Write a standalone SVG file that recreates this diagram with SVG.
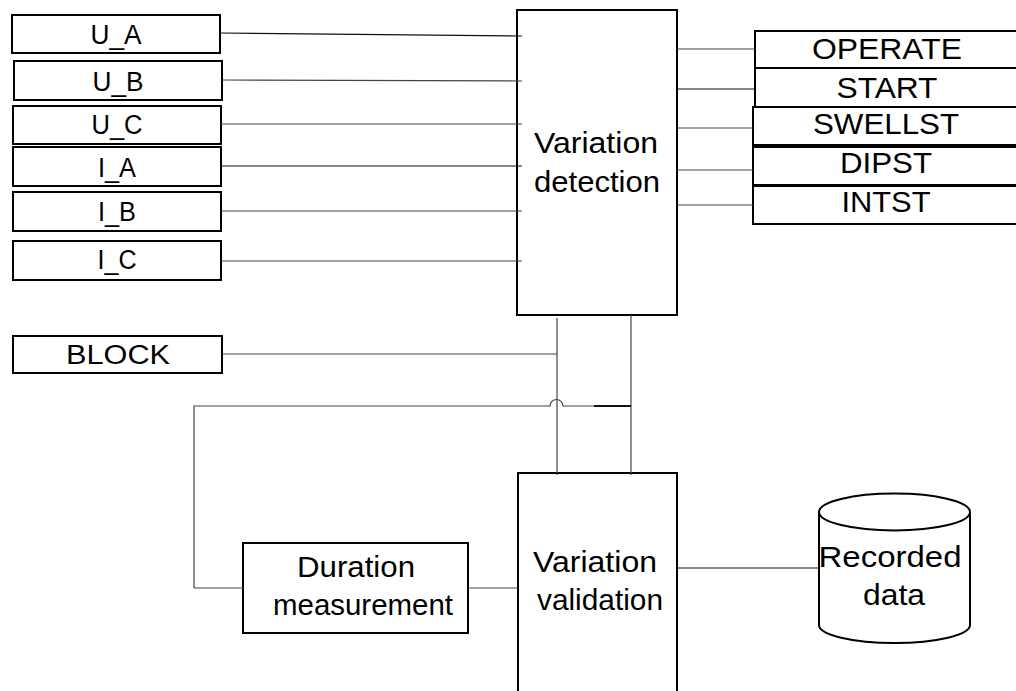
<svg xmlns="http://www.w3.org/2000/svg" width="1016" height="691" viewBox="0 0 1016 691">
<style>
  .box { fill: #fff; stroke: #000; stroke-width: 2; }
  .line { fill: none; stroke: #444; stroke-width: 1.2; }
  .dark { stroke: #111; }
  .t { font-family: "Liberation Sans", Arial, sans-serif; fill: #000; text-anchor: middle; }
  .s26 { font-size: 27px; }
  .s28 { font-size: 30px; }
</style>
<rect width="1016" height="691" fill="#fff"/>

<g id="node-ua"><rect class="box" x="12" y="15" width="208" height="38"/><text class="t s26" x="116" y="44" textLength="51" lengthAdjust="spacingAndGlyphs">U_A</text></g>
<g id="node-ub"><rect class="box" x="14" y="61" width="208" height="39"/><text class="t s26" x="118" y="91" textLength="51" lengthAdjust="spacingAndGlyphs">U_B</text></g>
<g id="node-uc"><rect class="box" x="13" y="106" width="208" height="38"/><text class="t s26" x="117" y="134" textLength="51" lengthAdjust="spacingAndGlyphs">U_C</text></g>
<g id="node-ia"><rect class="box" x="13" y="147" width="208" height="39"/><text class="t s26" x="117" y="177" textLength="38" lengthAdjust="spacingAndGlyphs">I_A</text></g>
<g id="node-ib"><rect class="box" x="13" y="192" width="208" height="39"/><text class="t s26" x="117" y="221" textLength="38" lengthAdjust="spacingAndGlyphs">I_B</text></g>
<g id="node-ic"><rect class="box" x="13" y="241" width="208" height="39"/><text class="t s26" x="117" y="269" textLength="39" lengthAdjust="spacingAndGlyphs">I_C</text></g>
<g id="node-block"><rect class="box" x="13" y="336" width="209" height="37"/><text class="t s26" x="118" y="364" textLength="104" lengthAdjust="spacingAndGlyphs">BLOCK</text></g>

<g id="node-detection"><rect class="box" x="517" y="10" width="160" height="305"/>
  <text class="t s28" x="596" y="153" textLength="124" lengthAdjust="spacingAndGlyphs">Variation</text>
  <text class="t s28" x="597" y="192" textLength="126" lengthAdjust="spacingAndGlyphs">detection</text>
</g>

<g id="node-operate"><rect class="box" x="755" y="31" width="265" height="37"/><text class="t s28" x="887" y="59" textLength="150" lengthAdjust="spacingAndGlyphs">OPERATE</text></g>
<g id="node-start"><rect class="box" x="755" y="68" width="265" height="39"/><text class="t s28" x="887" y="98" textLength="101" lengthAdjust="spacingAndGlyphs">START</text></g>
<g id="node-swellst"><rect class="box" x="753" y="107" width="267" height="38"/><text class="t s28" x="886" y="134" textLength="146" lengthAdjust="spacingAndGlyphs">SWELLST</text></g>
<g id="node-dipst"><rect class="box" x="753" y="147" width="267" height="38"/><text class="t s28" x="886" y="173" textLength="92" lengthAdjust="spacingAndGlyphs">DIPST</text></g>
<g id="node-intst"><rect class="box" x="753" y="186" width="267" height="38"/><text class="t s28" x="886" y="212" textLength="89" lengthAdjust="spacingAndGlyphs">INTST</text></g>

<g id="node-duration"><rect class="box" x="243" y="543" width="225" height="90"/>
  <text class="t s28" x="356" y="577" textLength="118" lengthAdjust="spacingAndGlyphs">Duration</text>
  <text class="t s28" x="363" y="615" textLength="180" lengthAdjust="spacingAndGlyphs">measurement</text>
</g>

<g id="node-validation"><rect class="box" x="518" y="473" width="159" height="240"/>
  <text class="t s28" x="595" y="572" textLength="124" lengthAdjust="spacingAndGlyphs">Variation</text>
  <text class="t s28" x="600" y="610" textLength="126" lengthAdjust="spacingAndGlyphs">validation</text>
</g>

<g id="node-recorded">
  <path class="box" d="M819,512 L819,625 A75.5,18 0 0 0 970,625 L970,512"/>
  <ellipse class="box" cx="894.5" cy="512" rx="75.5" ry="18.5"/>
  <text class="t s28" x="890" y="567" textLength="143" lengthAdjust="spacingAndGlyphs">Recorded</text>
  <text class="t s28" x="894" y="605" textLength="62" lengthAdjust="spacingAndGlyphs">data</text>
</g>

<g id="connectors">
  <path class="line dark" d="M220,33 L522,36"/>
  <path class="line" d="M222,80 L522,81"/>
  <path class="line" d="M221,124 L522,124"/>
  <path class="line dark" d="M221,166 L522,166"/>
  <path class="line" d="M221,211 L522,211"/>
  <path class="line" d="M221,261 L522,261"/>
  <path class="line" d="M677,49 L755,49"/>
  <path class="line dark" d="M677,89 L755,89"/>
  <path class="line" d="M677,128 L753,128"/>
  <path class="line" d="M677,170 L753,170"/>
  <path class="line" d="M677,205 L753,205"/>
  <path class="line" d="M222,354 L557,354"/>
  <path class="line" d="M557,318 L557,475"/>
  <path class="line" d="M631,315 L631,475"/>
  <path class="line" d="M194,588 L194,406 L550,406 A6.5,6.5 0 0 1 563,406 L594,406"/>
  <path class="line dark" d="M594,406 L631,406" style="stroke-width:2"/>
  <path class="line" d="M194,588 L243,588"/>
  <path class="line" d="M468,588 L518,588"/>
  <path class="line dark" d="M677,568 L819,568"/>
</g>
</svg>
